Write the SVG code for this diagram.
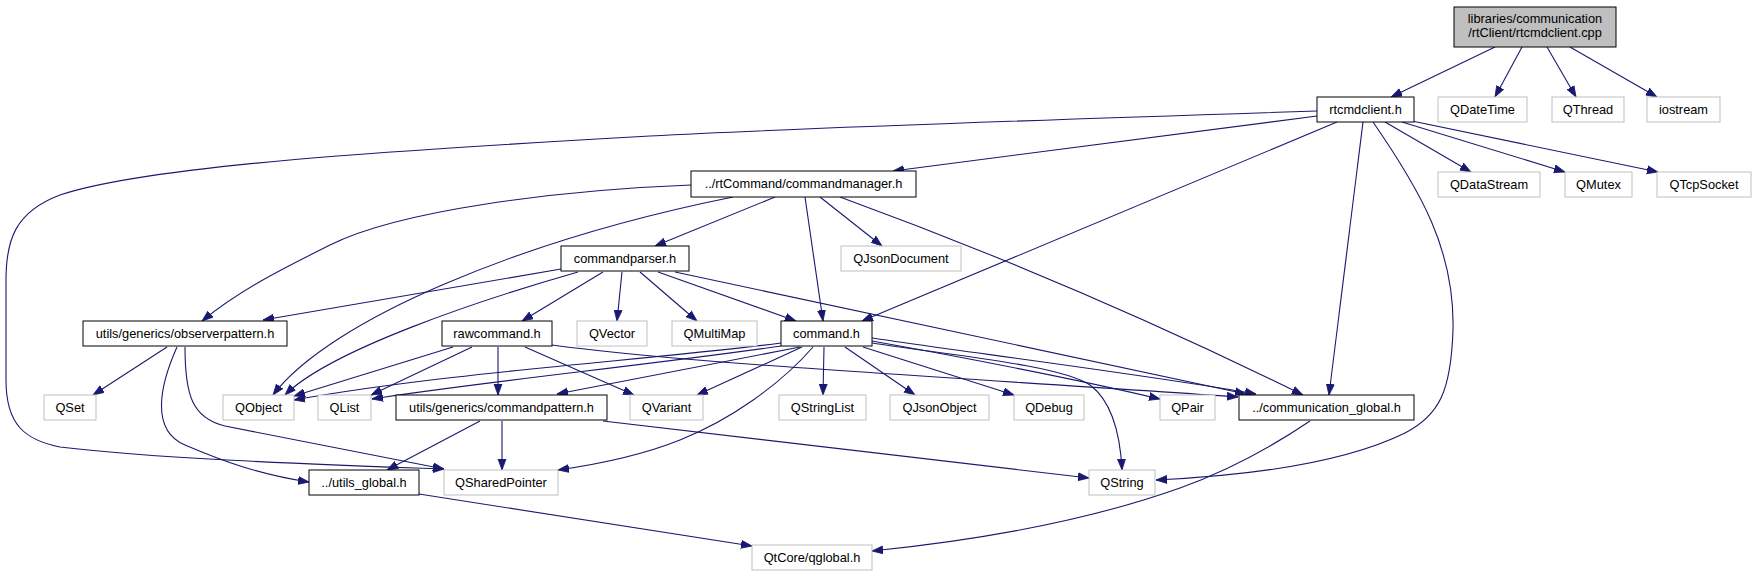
<svg xmlns="http://www.w3.org/2000/svg" width="1757" height="576" viewBox="0 0 1757 576">
<style>
.n rect{fill:#fff;stroke:#000;stroke-width:1}
.g rect{fill:#fff;stroke:#bfbfbf;stroke-width:1}
.top rect{fill:#bfbfbf;stroke:#000;stroke-width:1}
text{font-family:"Liberation Sans",Arial,sans-serif;font-size:12.8px;fill:#000;text-anchor:middle}
#edges path{fill:none;stroke:#191970;stroke-width:1.1;marker-end:url(#ah)}
</style>
<defs>
<marker id="ah" markerUnits="userSpaceOnUse" markerWidth="13" markerHeight="10" refX="11" refY="4.5" orient="auto">
<path d="M0,0.5 L11,4.5 L0,8.5 z" fill="#191970" stroke="#191970" stroke-width="0.8"/>
</marker>
</defs>
<rect width="1757" height="576" fill="#fff"/>
<g id="edges">
<path d="M1495,47 L1391,97"/>
<path d="M1522,47 L1495,97"/>
<path d="M1547,47 L1576,97"/>
<path d="M1570,47 L1657,97"/>
<path d="M1385,122 L1471,172"/>
<path d="M1402,122 L1565,172"/>
<path d="M1412,121 L1658,172"/>
<path d="M1317,116 L893,171"/>
<path d="M1337,122 L862,321"/>
<path d="M1363,122 L1329,395"/>
<path d="M1373,122 C1420,190 1455,250 1453,330 C1451,390 1440,415 1405,433 C1340,465 1240,476 1156,480"/>
<path d="M1317,111 C1100,118 800,128 650,136 C400,150 150,165 60,195 C15,212 6,240 6,280 L6,380 C6,425 25,440 60,447 C150,458 300,464 444,469"/>
<path d="M775,197 L655,246"/>
<path d="M805,197 L823,321"/>
<path d="M820,197 L882,246"/>
<path d="M840,197 Q1078,284 1303,395"/>
<path d="M691,185 C560,190 400,210 330,245 C280,270 240,290 202,321"/>
<path d="M733,197 C520,240 330,320 273,395"/>
<path d="M561,269 L263,320"/>
<path d="M578,272 C480,300 330,350 285,395"/>
<path d="M603,272 L522,321"/>
<path d="M622,272 L617,321"/>
<path d="M640,272 L697,321"/>
<path d="M658,272 L796,321"/>
<path d="M675,272 L1246,394"/>
<path d="M453,347 L294,396"/>
<path d="M472,347 L371,395"/>
<path d="M498,347 L498,395"/>
<path d="M525,347 L634,395"/>
<path d="M552,345 C700,365 1000,380 1238,397"/>
<path d="M781,343 C650,360 450,372 294,400"/>
<path d="M781,346 C650,365 480,382 372,399"/>
<path d="M800,347 L557,394"/>
<path d="M802,347 L697,395"/>
<path d="M813,347 C780,385 730,420 680,440 C640,456 600,464 558,470"/>
<path d="M824,347 L823,395"/>
<path d="M845,347 L915,395"/>
<path d="M863,347 L1014,395"/>
<path d="M872,338 C950,350 1150,375 1256,394"/>
<path d="M872,341 C950,355 1080,380 1160,399"/>
<path d="M872,343 C950,355 1060,365 1090,385 C1110,400 1120,430 1122,470"/>
<path d="M167,347 L93,395"/>
<path d="M177,347 C160,385 150,430 185,445 C220,460 260,475 309,482"/>
<path d="M185,347 C185,395 192,418 225,426 L444,469"/>
<path d="M480,421 L387,470"/>
<path d="M502,421 L502,470"/>
<path d="M603,421 L1089,478"/>
<path d="M419,494 L752,546"/>
<path d="M1310,421 C1270,448 1230,470 1180,488 C1090,520 980,540 872,551"/>
</g>
<g id="n_cpp" class="top"><rect x="1454" y="7" width="162" height="40"/><text x="1535" y="22.5">libraries/communication</text><text x="1535" y="37">/rtClient/rtcmdclient.cpp</text></g>
<g id="n_rtcmdclient_h" class="n"><rect x="1317" y="97" width="97" height="25"/><text x="1365.5" y="113.7">rtcmdclient.h</text></g>
<g id="n_qdatetime" class="g"><rect x="1438" y="97" width="89" height="25"/><text x="1482.5" y="113.7">QDateTime</text></g>
<g id="n_qthread" class="g"><rect x="1552" y="97" width="72" height="25"/><text x="1588" y="113.7">QThread</text></g>
<g id="n_iostream" class="g"><rect x="1647" y="97" width="73" height="25"/><text x="1683.5" y="113.7">iostream</text></g>
<g id="n_commandmanager" class="n"><rect x="691" y="171" width="225" height="26"/><text x="803.5" y="188">../rtCommand/commandmanager.h</text></g>
<g id="n_qdatastream" class="g"><rect x="1438" y="172" width="102" height="25"/><text x="1489" y="188.7">QDataStream</text></g>
<g id="n_qmutex" class="g"><rect x="1565" y="172" width="67" height="25"/><text x="1598.5" y="188.7">QMutex</text></g>
<g id="n_qtcpsocket" class="g"><rect x="1657" y="172" width="94" height="25"/><text x="1704" y="188.7">QTcpSocket</text></g>
<g id="n_commandparser" class="n"><rect x="561" y="246" width="128" height="25"/><text x="625" y="262.7">commandparser.h</text></g>
<g id="n_qjsondocument" class="g"><rect x="841" y="246" width="120" height="25"/><text x="901" y="262.7">QJsonDocument</text></g>
<g id="n_observerpattern" class="n"><rect x="83" y="321" width="204" height="25"/><text x="185" y="337.7">utils/generics/observerpattern.h</text></g>
<g id="n_rawcommand" class="n"><rect x="442" y="321" width="110" height="25"/><text x="497" y="337.7">rawcommand.h</text></g>
<g id="n_qvector" class="g"><rect x="577" y="321" width="70" height="25"/><text x="612" y="337.7">QVector</text></g>
<g id="n_qmultimap" class="g"><rect x="672" y="321" width="85" height="25"/><text x="714.5" y="337.7">QMultiMap</text></g>
<g id="n_command" class="n"><rect x="781" y="321" width="91" height="25"/><text x="826.5" y="337.7">command.h</text></g>
<g id="n_qset" class="g"><rect x="44" y="395" width="52" height="25"/><text x="70" y="411.7">QSet</text></g>
<g id="n_qobject" class="g"><rect x="223" y="395" width="71" height="25"/><text x="258.5" y="411.7">QObject</text></g>
<g id="n_qlist" class="g"><rect x="318" y="395" width="53" height="25"/><text x="344.5" y="411.7">QList</text></g>
<g id="n_commandpattern" class="n"><rect x="396" y="395" width="211" height="25"/><text x="501.5" y="411.7">utils/generics/commandpattern.h</text></g>
<g id="n_qvariant" class="g"><rect x="630" y="395" width="73" height="25"/><text x="666.5" y="411.7">QVariant</text></g>
<g id="n_qstringlist" class="g"><rect x="779" y="395" width="87" height="25"/><text x="822.5" y="411.7">QStringList</text></g>
<g id="n_qjsonobject" class="g"><rect x="890" y="395" width="99" height="25"/><text x="939.5" y="411.7">QJsonObject</text></g>
<g id="n_qdebug" class="g"><rect x="1014" y="395" width="70" height="25"/><text x="1049" y="411.7">QDebug</text></g>
<g id="n_qpair" class="g"><rect x="1160" y="395" width="55" height="25"/><text x="1187.5" y="411.7">QPair</text></g>
<g id="n_comm_global" class="n"><rect x="1239" y="395" width="175" height="25"/><text x="1326.5" y="411.7">../communication_global.h</text></g>
<g id="n_utils_global" class="n"><rect x="309" y="470" width="110" height="25"/><text x="364" y="486.7">../utils_global.h</text></g>
<g id="n_qsharedpointer" class="g"><rect x="444" y="470" width="114" height="25"/><text x="501" y="486.7">QSharedPointer</text></g>
<g id="n_qstring" class="g"><rect x="1089" y="470" width="66" height="25"/><text x="1122" y="486.7">QString</text></g>
<g id="n_qglobal" class="g"><rect x="752" y="545" width="120" height="25"/><text x="812" y="561.7">QtCore/qglobal.h</text></g>
</svg>
